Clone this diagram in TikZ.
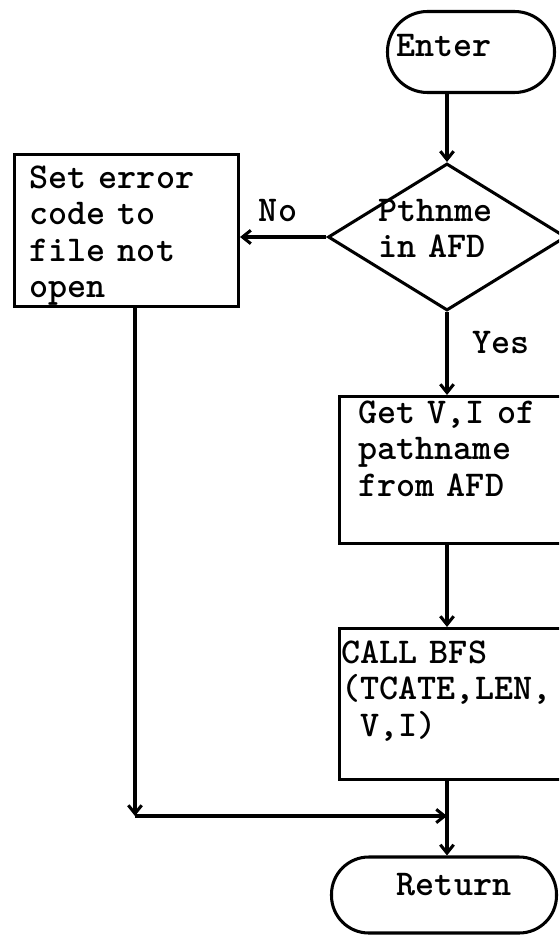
\documentclass[tikz,border=0pt]{standalone}
\usepackage{tikz}
\usetikzlibrary{shapes.geometric, arrows.meta, calc}

\begin{document}
\begin{tikzpicture}[x=0.03cm, y=-0.03cm, line width=2.6pt,
  font=\ttfamily\bfseries\fontsize{31}{31}\selectfont,
  term/.style={draw, rectangle, rounded corners=1.1cm, inner sep=0pt, text height=0.6cm},
  block/.style={draw, rectangle, anchor=north west, align=left, inner ysep=0pt},
  decide/.style={draw, diamond, aspect=1.62, inner sep=0pt, minimum width=7.14cm, minimum height=4.41cm, align=left, text width=4.14cm},
  arr/.style={-{Straight Barb[length=2.5mm, width=4mm]}}]
\useasboundingbox (0,0) rectangle (559,936);
\clip (0,0) rectangle (559,936);
\node[term, minimum width=5.01cm, minimum height=2.43cm, rounded corners=1.2cm, text depth=0.33cm] (enter) at (471,52) {Enter\hspace*{1.6cm}};
\node[decide, text height=0.15cm] (pth) at (447,237) {Pthnme\\in AFD};
\node[block, text width=5.82cm, inner xsep=0.45cm, text height=1.02cm, text depth=3.54cm] (err) at (13,153) {Set error\\code to\\file not\\open};
\node[block, text width=6.36cm, inner xsep=0.57cm, text height=0.81cm, text depth=3.6cm] (get) at (338,395) {Get V,I of\\pathname\\from AFD};
\node[block, text width=7.38cm, inner xsep=0.06cm, text height=1.05cm, text depth=3.48cm] (call) at (338,627) {CALL BFS\\(TCATE,LEN,\\\phantom{(}V,I)};
\node[term, minimum width=6.75cm, minimum height=2.28cm, rounded corners=1.12cm, text depth=0.6cm] (ret) at (444,895) {\hspace*{0.6cm}Return};
\node[anchor=base] (no) at (278,222) {No};
\node[anchor=base] (yes) at (501,353) {Yes};
\coordinate (cr) at (135,816);
\coordinate (jn) at (447,816);
\draw[arr] (enter.south -| pth.north) -- (pth.north);
\draw[arr] (pth.west) -- (pth.west -| err.east);
\draw[arr] (pth.south) -- (pth.south |- get.north);
\draw[arr] (pth.south |- get.south) -- (pth.south |- call.north);
\draw[arr] (call.south -| jn) -- (ret.north -| jn);
\draw[arr] (err.south -| cr) -- (cr);
\draw[arr] (cr) -- (jn);
\end{tikzpicture}
\end{document}
